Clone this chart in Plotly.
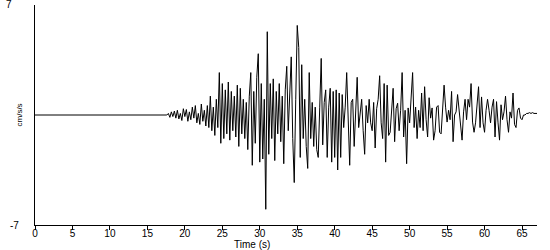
import plotly.graph_objects as go

# Sampled record: flat until ~17.6 s, then values every 0.2 s
t_start = 17.6
dt = 0.2
accel = [
    # 17.6 - 18.8
    0.0, 0.1, -0.15, 0.2, -0.1, 0.25, -0.2,
    # 19.0 - 20.8
    0.3, -0.25, 0.1, -0.35, 0.4, -0.1, 0.35, -0.4, 0.2, -0.3,
    # 21.0 - 23.0
    0.5, -0.2, 0.6, -0.5, 0.1, -0.6, 0.7, -0.4, 0.3, -0.7, 0.6,
    # 23.2 - 24.4
    -0.8, 1.2, -1.0, 0.5, -1.3, 1.0, -0.8,
    # 24.6 - 25.6
    2.7, -1.8, 2.0, -1.5, 1.6, -1.2,
    # 25.8 - 26.8
    2.1, -1.6, 1.5, -1.0, 1.2, -1.4,
    # 27.0 - 28.2
    1.9, -2.0, 1.7, -1.2, 1.0, -1.5, 0.8,
    # 28.4 - 29.4
    -2.2, 1.2, 2.7, -3.2, 1.5, -1.8,
    # 29.6 - 30.4
    2.4, 3.9, -3.0, 2.0, -2.8,
    # 30.6 - 31.4
    1.0, -6.0, 5.3, -2.5, 2.0,
    # 31.6 - 32.2
    -1.5, 2.3, -2.9, 1.5,
    # 32.4 - 33.0
    -1.2, 2.0, -1.7, 1.2,
    # 33.2 - 34.0
    -3.1, 1.6, 3.1, -1.0, 1.5,
    # 34.2 - 34.8
    3.7, -1.5, -4.3, 1.0,
    # 35.0 - 35.8
    5.7, 4.3, -2.7, 3.2, -1.5,
    # 36.0 - 37.2
    1.0, -2.0, -3.4, 2.7, -1.5, 0.8, -2.0,
    # 37.4 - 38.4
    0.5, -2.2, -2.7, 0.5, 3.6, -1.9,
    # 38.6 - 40.0
    0.8, 1.6, -2.7, 0.5, 1.7, -3.0, 1.5, -2.7,
    # 40.2 - 41.2
    1.6, -3.5, 1.4, -2.7, 1.3, -0.8,
    # 41.4 - 42.2
    0.5, 2.7, -1.1, -3.2, 0.8,
    # 42.4 - 42.8
    1.0, -2.0, 0.5,
    # 43.0 - 44.0
    2.4, -0.8, 0.4, 1.0, -1.0, -2.5,
    # 44.2 - 45.0
    0.6, -0.5, 1.0, -0.5, -1.0,
    # 45.2 - 46.0
    0.8, -2.1, 0.4, 1.0, 2.5,
    # 46.2 - 47.0
    -0.5, -1.5, 2.0, -3.0, 1.9,
    # 47.2 - 48.0
    -1.3, -1.1, 0.5, 1.7, -1.7,
    # 48.2 - 49.0
    0.4, 0.75, -1.0, 0.3, 2.7,
    # 49.2 - 50.0
    -1.4, 0.3, -3.1, 0.45, -0.5,
    # 50.2 - 51.0
    0.8, 2.7, -0.8, 0.5, -1.5,
    # 51.2 - 52.0
    0.3, -0.8, 1.4, -1.0, 1.8,
    # 52.2 - 53.0
    -0.3, -1.4, 1.1, -0.2, 0.45,
    # 53.2 - 54.0
    -1.6, -1.0, 0.5, 0.6, -1.1,
    # 54.2 - 55.0
    -1.2, 0.3, 1.9, 0.5, -0.45,
    # 55.2 - 56.0
    0.3, -0.3, 1.5, -1.7, 0.0,
    # 56.2 - 57.0
    0.2, 1.3, 0.3, -1.0, -1.6,
    # 57.2 - 58.0
    0.2, 1.0, -0.3, 1.0, 0.5,
    # 58.2 - 59.0
    2.0, -0.45, -1.1, -0.5, 0.5,
    # 59.2 - 60.0
    1.8, -0.8, 1.15, -0.5, -1.1,
    # 60.2 - 61.0
    0.3, 1.0, 0.3, -0.5, 0.5,
    # 61.2 - 62.0
    1.0, -1.4, 0.85, -0.5, -1.6,
    # 62.2 - 63.0
    0.65, -0.3, 0.2, 1.2, -0.3,
    # 63.2 - 64.0
    -1.1, 0.2, -0.2, 1.4, -0.6,
    # 64.2 - 65.0
    -0.8, 0.3, 0.45, -0.2, -0.3,
    # 65.2 - 66.0
    0.0, 0.0, 0.1, 0.1, 0.15,
    # 66.2 - 67.0
    0.1, 0.15, 0.1, 0.1, 0.1,
]

time_s = [0.0] + [round(t_start + i * dt, 2) for i in range(len(accel))]
values = [0.0] + accel

x_ticks = [0, 5, 10, 15, 20, 25, 30, 35, 40, 45, 50, 55, 60, 65]
y_limits = [-7, 7]

family = "Liberation Sans, Arial, sans-serif"
tick_font = dict(family=family, size=10, color="black")
title_font = dict(family=family, size=10, color="black")
ylab_font = dict(family=family, size=8, color="black")

fig = go.Figure()
fig.add_trace(go.Scatter(
    x=time_s, y=values, mode="lines",
    line=dict(color="black", width=1),
    hoverinfo="skip", showlegend=False,
))

fig.update_layout(
    width=550, height=250,
    margin=dict(l=35, r=13, t=5, b=25),
    paper_bgcolor="white", plot_bgcolor="white",
    font=tick_font,
    showlegend=False,
    xaxis=dict(
        range=[0, 67], tickvals=x_ticks, ticktext=[str(v) for v in x_ticks],
        showgrid=False, zeroline=False, showline=True, linecolor="black", linewidth=1,
        ticks="outside", ticklen=4, tickcolor="black", tickfont=tick_font,
        ticklabelstandoff=-5,
    ),
    yaxis=dict(
        range=y_limits, showgrid=False, zeroline=False, showline=True,
        linecolor="black", linewidth=1, showticklabels=False, ticks="",
    ),
    annotations=[
        dict(x=0, xref="paper", xanchor="left", xshift=-31, y=y_limits[1], yref="y",
             yshift=1, text=str(y_limits[1]), showarrow=False, font=tick_font),
        dict(x=0, xref="paper", xanchor="left", xshift=-27, y=y_limits[0], yref="y",
             text=str(y_limits[0]), showarrow=False, font=tick_font),
        dict(x=0, xref="paper", xshift=-23, y=0, yref="y", text="cm/s/s",
             textangle=-90, showarrow=False, font=ylab_font),
        dict(x=29.0, xref="x", y=0, yref="paper", yshift=-19.5, yanchor="middle",
             text="Time (s)", showarrow=False, font=title_font),
    ],
)

fig.write_html("out.html")
